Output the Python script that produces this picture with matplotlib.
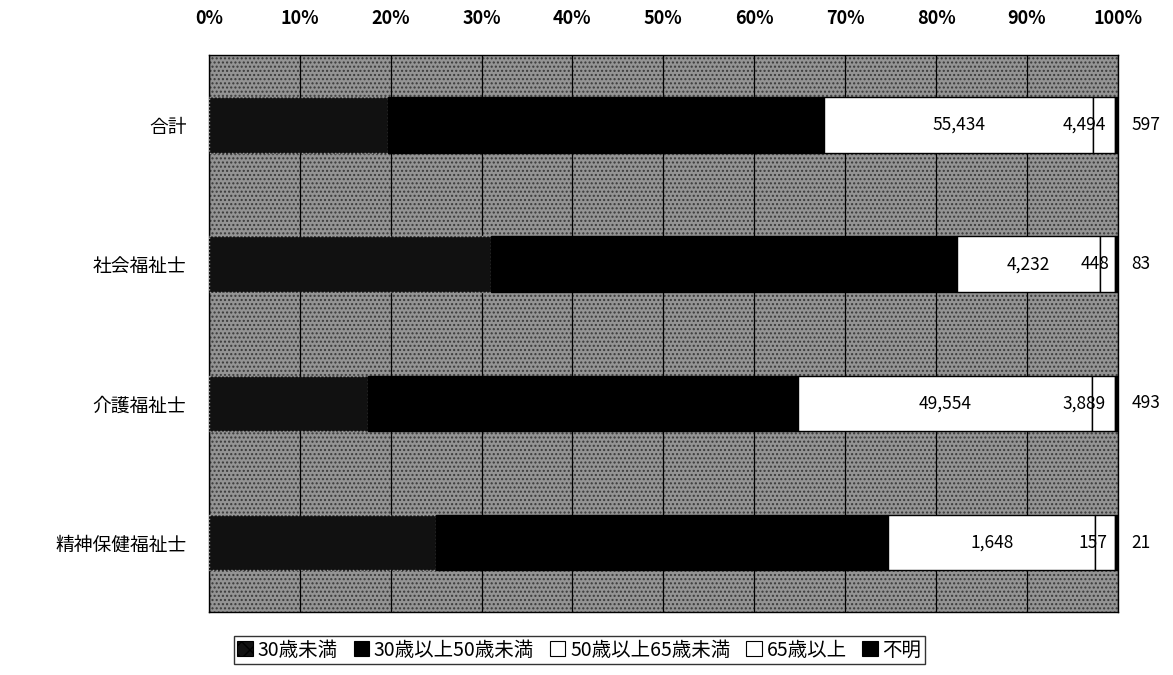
import numpy as np
import matplotlib
matplotlib.use("Agg")
import matplotlib.pyplot as plt
from matplotlib.patches import Rectangle, Patch

plt.rcParams['font.family'] = ['Noto Sans CJK JP', 'DejaVu Sans']

# Dane (liczba osób wg grup wiekowych)
categories = ['合計', '社会福祉士', '介護福祉士', '精神保健福祉士']
under30 = [36890, 8330, 26760, 1800]
age30_50 = [89820, 13750, 72480, 3590]
age50_65 = [55434, 4232, 49554, 1648]
over65 = [4494, 448, 3889, 157]
unknown = [597, 83, 493, 21]

series_names = ['30歳未満', '30歳以上50歳未満', '50歳以上65歳未満', '65歳以上', '不明']
x_ticks = [0, 10, 20, 30, 40, 50, 60, 70, 80, 90, 100]

series = [under30, age30_50, age50_65, over65, unknown]
totals = np.sum(np.array(series, dtype=float), axis=0)
shares = [np.array(s) / totals * 100 for s in series]

# style segmentów
faces = ['#111111', 'black', 'white', 'white', 'black']
edges = ['#9a9a9a', 'black', 'black', 'black', 'black']
styles = [':', '-', '-', '-', '-']

fig = plt.figure(figsize=(11.73, 6.75), dpi=100)
ax = fig.add_axes([0.178, 0.093, 0.775, 0.825])

# szare, ziarniste tło obszaru wykresu
ax.add_patch(Rectangle((0, 0), 1, 1, transform=ax.transAxes, facecolor='#949494',
                       edgecolor='#3a3a3a', hatch='....', lw=0, zorder=0))
for t in x_ticks:
    ax.axvline(t, color='black', lw=0.9, zorder=1)

y = np.arange(len(categories))
left = np.zeros(len(categories))
for i, sh in enumerate(shares):
    ax.barh(y, sh, left=left, height=0.4, color=faces[i], edgecolor=edges[i],
            linestyle=styles[i], lw=1.0, zorder=3)
    left = left + sh

# etykiety wartości
start50 = shares[0] + shares[1]
for k in range(len(categories)):
    c50 = start50[k] + shares[2][k] / 2
    ax.text(c50, y[k], f"{age50_65[k]:,}", ha='center', va='center', fontsize=12.5, zorder=5)
    c65 = start50[k] + shares[2][k] + shares[3][k] / 2
    ax.text(c65 + 0.2, y[k], f"{over65[k]:,}", ha='right', va='center', fontsize=12.5, zorder=5)
    ax.text(101.5, y[k], f"{unknown[k]:,}", ha='left', va='center', fontsize=12.5, zorder=5,
            clip_on=False)

ax.set_xlim(0, 100)
ax.set_ylim(3.5, -0.5)
ax.set_yticks(y)
ax.set_yticklabels(categories, fontsize=13.5)
ax.set_xticks(x_ticks)
ax.set_xticklabels([f"{t}%" for t in x_ticks], fontsize=13, fontweight='bold')
ax.xaxis.tick_top()
ax.tick_params(axis='both', length=0)
ax.tick_params(axis='x', pad=20)
ax.tick_params(axis='y', pad=16)
for s in ax.spines.values():
    s.set_color('black')
    s.set_linewidth(1.0)

handles = [Patch(facecolor=faces[i], edgecolor='black', hatch='xx' if i == 0 else None, lw=0.8)
           for i in range(len(series_names))]
leg = fig.legend(handles, series_names, loc='center', bbox_to_anchor=(0.494, 0.037), ncol=5,
                 fontsize=14, frameon=True, fancybox=False, handlelength=0.8, handleheight=0.8,
                 handletextpad=0.25, columnspacing=0.8, borderpad=0.2)
leg.get_frame().set_edgecolor('black')
leg.get_frame().set_linewidth(1.0)

fig.savefig('out.png', dpi=100)
